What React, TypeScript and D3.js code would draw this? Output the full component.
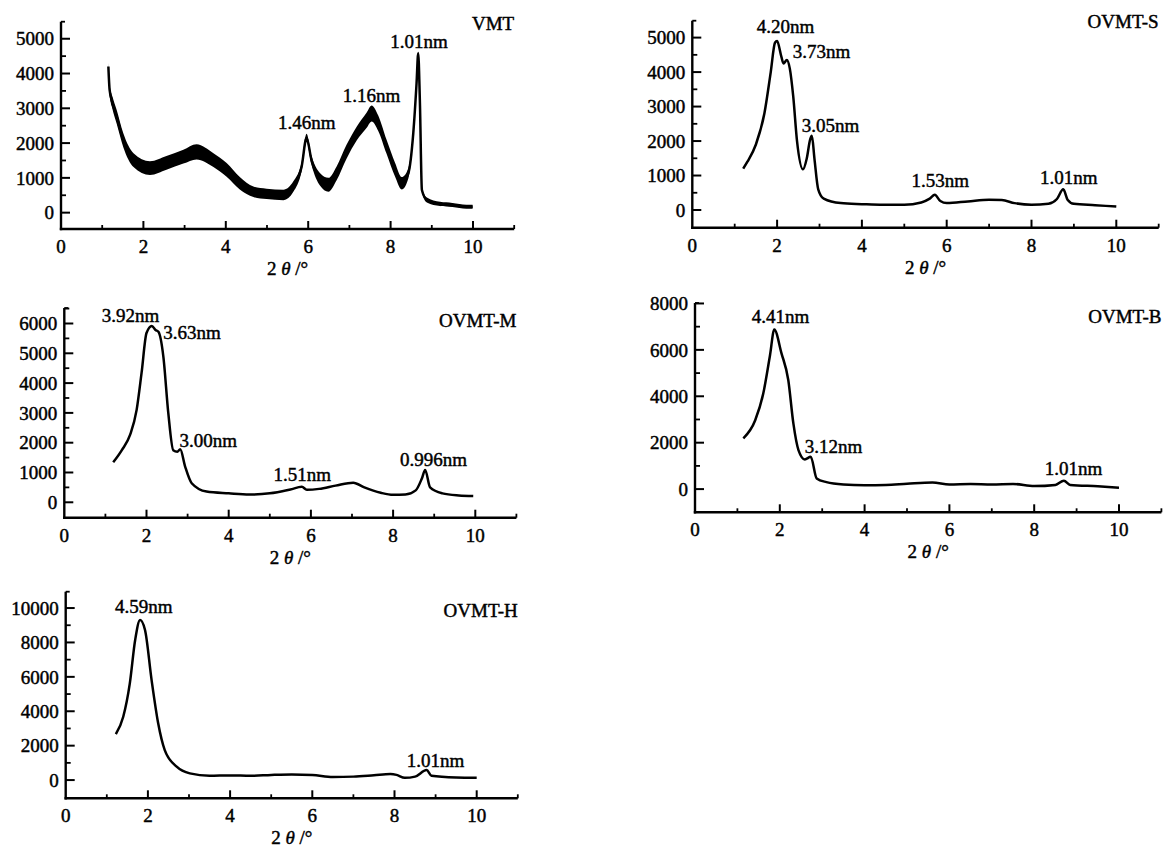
import * as d3 from 'd3';
import React from 'react';

// ---- data ----
const xTickLabels = [0, 2, 4, 6, 8, 10];
const xMinorTicks = [1, 3, 5, 7, 9, 11];

// VMT: noisy trace, kept as centre + half-width of the band
const vmtX = [1.15, 1.18, 1.25, 1.35, 1.51, 1.76, 2.16, 2.56, 2.97, 3.29, 3.7, 4.02, 4.34, 4.67, 4.99, 5.4, 5.64, 5.84, 5.96, 6.08, 6.29, 6.49, 6.69, 6.93, 7.18, 7.42, 7.54, 7.7, 7.9, 8.11, 8.27, 8.43, 8.55, 8.63, 8.67, 8.71, 8.76, 8.88, 9.2, 9.5, 9.84, 9.99];
const vmtY = [4200, 3530, 3150, 2760, 2090, 1510, 1280, 1430, 1610, 1750, 1510, 1230, 845, 600, 540, 510, 750, 1320, 2150, 1510, 950, 800, 1130, 1750, 2280, 2660, 2850, 2570, 1900, 1230, 845, 1130, 2280, 3720, 4580, 3240, 650, 365, 250, 220, 170, 170];
const vmtSpread = [100, 150, 180, 200, 200, 200, 200, 200, 200, 220, 200, 200, 180, 150, 150, 150, 150, 130, 120, 130, 180, 200, 200, 200, 200, 220, 230, 220, 200, 200, 180, 150, 100, 60, 50, 50, 60, 70, 60, 60, 60, 60];

const sX = [1.2, 1.3, 1.5, 1.7, 1.85, 1.95, 2.0, 2.1, 2.15, 2.23, 2.3, 2.38, 2.47, 2.61, 2.7, 2.78, 2.82, 2.88, 2.97, 3.1, 3.5, 4.0, 4.5, 5.0, 5.4, 5.6, 5.72, 5.85, 6.0, 6.5, 7.0, 7.3, 7.6, 8.0, 8.4, 8.6, 8.75, 8.85, 9.0, 9.5, 10.0];
const sY = [1200, 1400, 1900, 2800, 4000, 4850, 4900, 4450, 4250, 4350, 4100, 3300, 2000, 1180, 1500, 2050, 2150, 1500, 600, 330, 200, 170, 150, 150, 220, 330, 440, 260, 200, 250, 300, 290, 200, 150, 180, 320, 600, 300, 180, 140, 100];

const mX = [1.19, 1.4, 1.6, 1.76, 1.88, 2.0, 2.13, 2.22, 2.29, 2.41, 2.53, 2.65, 2.75, 2.82, 2.94, 3.1, 3.46, 4.0, 4.5, 5.0, 5.5, 5.78, 5.9, 6.2, 6.6, 7.03, 7.3, 7.7, 8.0, 8.3, 8.55, 8.7, 8.78, 8.9, 9.2, 9.6, 9.95];
const mY = [1340, 1750, 2260, 3100, 4340, 5680, 5920, 5780, 5720, 4890, 3000, 1750, 1700, 1780, 1200, 640, 360, 300, 260, 300, 430, 520, 420, 450, 560, 660, 500, 320, 250, 260, 400, 800, 1085, 500, 300, 230, 210];

const bX = [1.14, 1.42, 1.61, 1.77, 1.87, 2.04, 2.2, 2.32, 2.44, 2.59, 2.73, 2.87, 3.1, 3.5, 4.0, 4.5, 5.0, 5.6, 6.0, 6.5, 7.0, 7.5, 8.0, 8.5, 8.7, 8.85, 9.5, 10.0];
const bY = [2190, 2970, 4120, 5780, 6880, 5850, 4700, 2830, 1680, 1280, 1390, 460, 300, 200, 170, 180, 230, 280, 200, 220, 200, 220, 130, 180, 360, 180, 120, 60];

const hX = [1.22, 1.4, 1.56, 1.69, 1.81, 1.93, 2.09, 2.25, 2.41, 2.7, 3.02, 3.5, 4.0, 4.5, 5.0, 5.5, 6.0, 6.5, 7.0, 7.5, 7.9, 8.05, 8.25, 8.5, 8.78, 8.9, 9.5, 10.0];
const hY = [2670, 3680, 5620, 8140, 9300, 8720, 5810, 3300, 1740, 780, 390, 250, 270, 250, 300, 330, 300, 180, 200, 280, 350, 300, 130, 200, 580, 250, 150, 130];

// tick values
const vmtTicks = [0, 1000, 2000, 3000, 4000, 5000];
const sTicks = [0, 1000, 2000, 3000, 4000, 5000];
const mTicks = [0, 1000, 2000, 3000, 4000, 5000, 6000];
const bTicks = [0, 2000, 4000, 6000, 8000];
const hTicks = [0, 2000, 4000, 6000, 8000, 10000];

// annotations [text, x, y] in data units, text starts at (x,y)
const vmtNotes: [string, number, number][] = [['1.46nm', 5.27, 2400], ['1.16nm', 6.84, 3190], ['1.01nm', 7.99, 4730]];
const sNotes: [string, number, number][] = [['4.20nm', 1.52, 5120], ['3.73nm', 2.37, 4415], ['3.05nm', 2.58, 2270], ['1.53nm', 5.17, 675], ['1.01nm', 8.2, 745]];
const mNotes: [string, number, number][] = [['3.92nm', 0.91, 6060], ['3.63nm', 2.41, 5470], ['3.00nm', 2.8, 1845], ['1.51nm', 5.09, 725], ['0.996nm', 8.17, 1220]];
const bNotes: [string, number, number][] = [['4.41nm', 1.34, 7140], ['3.12nm', 2.59, 1540], ['1.01nm', 8.25, 600]];
const hNotes: [string, number, number][] = [['4.59nm', 1.2, 9690], ['1.01nm', 8.3, 770]];

const FONT = '"Liberation Serif", "Times New Roman", serif';
const txt = { fontSize: 19, fontFamily: FONT, fill: '#000', stroke: '#000', strokeWidth: 0.45 };

type Panel = {
  name: string; nameY: number;
  xs: number[]; ys: number[]; spread?: number[];
  ticks: number[]; minor: number;
  notes: [string, number, number][];
  left: number; right: number; axisY: number; topY: number; yMin: number; yMax: number;
};

const panels: Panel[] = [
  { name: 'VMT', nameY: 5250, xs: vmtX, ys: vmtY, spread: vmtSpread, ticks: vmtTicks, minor: 500, notes: vmtNotes,
    left: 61, right: 514.2, axisY: 229, topY: 21.7, yMin: -470, yMax: 5490 },
  { name: 'OVMT-S', nameY: 5270, xs: sX, ys: sY, ticks: sTicks, minor: 500, notes: sNotes,
    left: 692.3, right: 1158.7, axisY: 227.7, topY: 20.7, yMin: -513, yMax: 5490 },
  { name: 'OVMT-M', nameY: 5890, xs: mX, ys: mY, ticks: mTicks, minor: 500, notes: mNotes,
    left: 64.3, right: 516.4, axisY: 517.7, topY: 308, yMin: -517, yMax: 6520 },
  { name: 'OVMT-B', nameY: 7140, xs: bX, ys: bY, ticks: bTicks, minor: 1000, notes: bNotes,
    left: 695, right: 1161.4, axisY: 512.3, topY: 303, yMin: -1000, yMax: 8020 },
  { name: 'OVMT-H', nameY: 9490, xs: hX, ys: hY, ticks: hTicks, minor: 1000, notes: hNotes,
    left: 65.7, right: 517.8, axisY: 798.3, topY: 591.7, yMin: -1060, yMax: 10950 },
];

function XrdPanel({ p }: { p: Panel }) {
  const x = d3.scaleLinear().domain([0, 11]).range([p.left, p.right]);
  const y = d3.scaleLinear().domain([p.yMin, p.yMax]).range([p.axisY, p.topY]);
  const pts = p.xs.map((v, i) => ({ x: v, y: p.ys[i], s: p.spread ? p.spread[i] : 0 }));

  const line = d3.line<any>().x(d => x(d.x)).y(d => y(d.y)).curve(d3.curveMonotoneX);
  const area = d3.area<any>().x(d => x(d.x)).y0(d => y(d.y - d.s)).y1(d => y(d.y + d.s)).curve(d3.curveMonotoneX);

  const minorY = d3.range(0, p.yMax, p.minor).filter(v => !p.ticks.includes(v));
  const axisX = x(0);

  return (
    <g>
      {/* axes */}
      <line x1={axisX} x2={axisX} y1={p.topY} y2={p.axisY + 1.2} stroke="#000" strokeWidth={2.4} />
      <line x1={axisX - 1.2} x2={x(11)} y1={p.axisY} y2={p.axisY} stroke="#000" strokeWidth={2.4} />
      <line x1={axisX} x2={axisX + 4} y1={p.topY} y2={p.topY} stroke="#000" strokeWidth={1.8} />
      {xTickLabels.map(t => (
        <g key={'xt' + t}>
          {t > 0 && <line x1={x(t)} x2={x(t)} y1={p.axisY} y2={p.axisY - 8} stroke="#000" strokeWidth={2} />}
          <text x={x(t)} y={p.axisY + 24} textAnchor="middle" {...txt}>{t}</text>
        </g>
      ))}
      {xMinorTicks.map(t => (
        <line key={'xm' + t} x1={x(t)} x2={x(t)} y1={p.axisY} y2={p.axisY - 4} stroke="#000" strokeWidth={1.8} />
      ))}
      {p.ticks.map(t => (
        <g key={'yt' + t}>
          <line x1={axisX} x2={axisX + 9} y1={y(t)} y2={y(t)} stroke="#000" strokeWidth={2} />
          <text x={axisX - 7} y={y(t)} dy="0.35em" textAnchor="end" {...txt}>{t}</text>
        </g>
      ))}
      {minorY.map(t => (
        <line key={'ym' + t} x1={axisX} x2={axisX + 5} y1={y(t)} y2={y(t)} stroke="#000" strokeWidth={1.8} />
      ))}
      <text x={x(5.5)} y={p.axisY + 46} textAnchor="middle" {...txt}>
        2 <tspan fontStyle="italic">θ</tspan> /°
      </text>

      {/* trace */}
      {p.spread && <path d={area(pts) || ''} fill="#000" />}
      <path d={line(pts) || ''} fill="none" stroke="#000" strokeWidth={2.5} strokeLinejoin="round" />

      {/* labels */}
      <text x={x(11)} y={y(p.nameY)} textAnchor="end" {...txt}>{p.name}</text>
      {p.notes.map(([t, nx, ny]) => (
        <text key={t + nx} x={x(nx)} y={y(ny)} {...txt}>{t}</text>
      ))}
    </g>
  );
}

export default function App() {
  return (
    <svg width={1166} height={849} style={{ position: 'absolute', left: 0, top: 0, background: '#fff' }}>
      <rect width={1166} height={849} fill="#fff" />
      {panels.map(p => <XrdPanel key={p.name} p={p} />)}
    </svg>
  );
}
